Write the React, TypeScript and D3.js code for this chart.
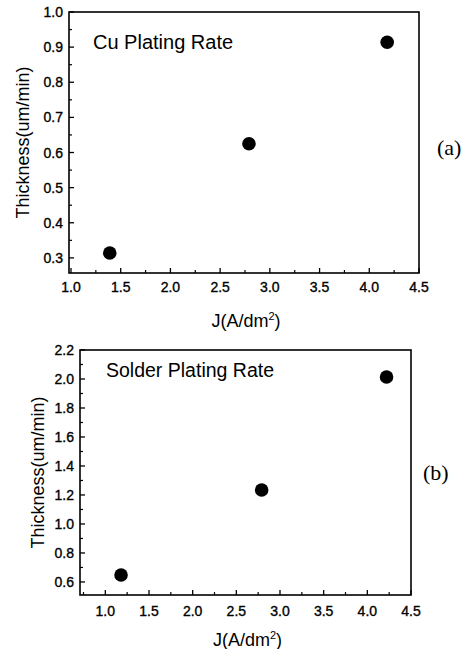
import React from "react";
import * as d3 from "d3";

const cuJ = [1.39, 2.79, 4.18];
const cuThickness = [0.314, 0.625, 0.914];
const solderJ = [1.18, 2.79, 4.22];
const solderThickness = [0.648, 1.234, 2.014];

const cuXTicks = [1.0, 1.5, 2.0, 2.5, 3.0, 3.5, 4.0, 4.5];
const cuYTicks = [0.3, 0.4, 0.5, 0.6, 0.7, 0.8, 0.9, 1.0];
const solderXTicks = [1.0, 1.5, 2.0, 2.5, 3.0, 3.5, 4.0, 4.5];
const solderYTicks = [0.6, 0.8, 1.0, 1.2, 1.4, 1.6, 1.8, 2.0, 2.2];

type PanelProps = {
  xs: number[];
  ys: number[];
  xDomain: [number, number];
  yDomain: [number, number];
  left: number;
  right: number;
  top: number;
  bottom: number;
  xTicks: number[];
  yTicks: number[];
  xMinorStep: number;
  yMinorStep: number;
  title: string;
  titleX: number;
  titleY: number;
  titleSize: number;
  tag: string;
  tagX: number;
  tagY: number;
  yLabelX: number;
  xLabelY: number;
  tickLabelY: number;
};

const sans = "'Liberation Sans', Arial, Helvetica, sans-serif";

function Panel(p: PanelProps) {
  const x = d3.scaleLinear().domain(p.xDomain).range([p.left, p.right]);
  const y = d3.scaleLinear().domain(p.yDomain).range([p.bottom, p.top]);
  const xMinor = d3.range(p.xTicks[0] - p.xMinorStep, p.xDomain[1] + 1e-9, p.xMinorStep)
    .filter((v) => v >= p.xDomain[0] - 1e-9 && !p.xTicks.some((t) => Math.abs(t - v) < 1e-6));
  const yMinor = d3.range(p.yTicks[0] - p.yMinorStep, p.yDomain[1] + 1e-9, p.yMinorStep)
    .filter((v) => v >= p.yDomain[0] - 1e-9 && !p.yTicks.some((t) => Math.abs(t - v) < 1e-6));
  const fmt = d3.format(".1f");
  const cy = (p.top + p.bottom) / 2;
  const cx = (p.left + p.right) / 2;
  return (
    <g>
      <rect x={p.left} y={p.top} width={p.right - p.left} height={p.bottom - p.top}
        fill="none" stroke="#000" strokeWidth={1.6} />
      {p.xTicks.map((t) => (
        <g key={"xt" + t}>
          <line x1={x(t)} x2={x(t)} y1={p.bottom} y2={p.bottom - 5} stroke="#000" strokeWidth={1.3} />
          <text x={x(t)} y={p.tickLabelY} textAnchor="middle" fontFamily={sans} fontSize={14}
            fill="#000" stroke="#000" strokeWidth={0.35}>
            {fmt(t)}
          </text>
        </g>
      ))}
      {xMinor.map((t) => (
        <line key={"xm" + t} x1={x(t)} x2={x(t)} y1={p.bottom} y2={p.bottom - 3} stroke="#000" strokeWidth={1.2} />
      ))}
      {p.yTicks.map((t) => (
        <g key={"yt" + t}>
          <line x1={p.left} x2={p.left + 5} y1={y(t)} y2={y(t)} stroke="#000" strokeWidth={1.3} />
          <text x={p.left - 6} y={y(t)} dy="0.36em" textAnchor="end" fontFamily={sans} fontSize={14}
            fill="#000" stroke="#000" strokeWidth={0.35}>
            {fmt(t)}
          </text>
        </g>
      ))}
      {yMinor.map((t) => (
        <line key={"ym" + t} x1={p.left} x2={p.left + 3} y1={y(t)} y2={y(t)} stroke="#000" strokeWidth={1.2} />
      ))}
      {p.xs.map((v, i) => (
        <circle key={"pt" + i} cx={x(v)} cy={y(p.ys[i])} r={6.8} fill="#000" />
      ))}
      <text x={p.titleX} y={p.titleY} fontFamily={sans} fontSize={p.titleSize} fill="#000">
        {p.title}
      </text>
      <text transform={`translate(${p.yLabelX},${cy}) rotate(-90)`} textAnchor="middle"
        fontFamily={sans} fontSize={18} fill="#000" dy="0.36em">
        Thickness(um/min)
      </text>
      <text x={cx + 2} y={p.xLabelY} textAnchor="middle" fontFamily={sans} fontSize={18} fill="#000">
        J(A/dm<tspan dy={-7} fontSize={11}>2</tspan><tspan dy={7}>)</tspan>
      </text>
      <text x={p.tagX} y={p.tagY} fontFamily="'Liberation Serif', 'Times New Roman', serif" fontSize={22} fill="#000">
        {p.tag}
      </text>
    </g>
  );
}

export default function App() {
  return (
    <svg width={469} height={649} style={{ position: "absolute", left: 0, top: 0, background: "#fff" }}>
      <rect width={469} height={649} fill="#fff" />
      <Panel xs={cuJ} ys={cuThickness} xDomain={[0.98, 4.5]} yDomain={[0.257, 1.0]}
        left={69} right={419} top={12} bottom={273}
        xTicks={cuXTicks} yTicks={cuYTicks} xMinorStep={0.25} yMinorStep={0.05}
        title="Cu Plating Rate" titleX={93} titleY={49} titleSize={20}
        tag="(a)" tagX={437} tagY={155} yLabelX={23} xLabelY={327} tickLabelY={292} />
      <Panel xs={solderJ} ys={solderThickness} xDomain={[0.71, 4.5]} yDomain={[0.51, 2.2]}
        left={80} right={411} top={350} bottom={595}
        xTicks={solderXTicks} yTicks={solderYTicks} xMinorStep={0.25} yMinorStep={0.1}
        title="Solder Plating Rate" titleX={106} titleY={377} titleSize={19.5}
        tag="(b)" tagX={423} tagY={480} yLabelX={38} xLabelY={646} tickLabelY={616} />
    </svg>
  );
}
